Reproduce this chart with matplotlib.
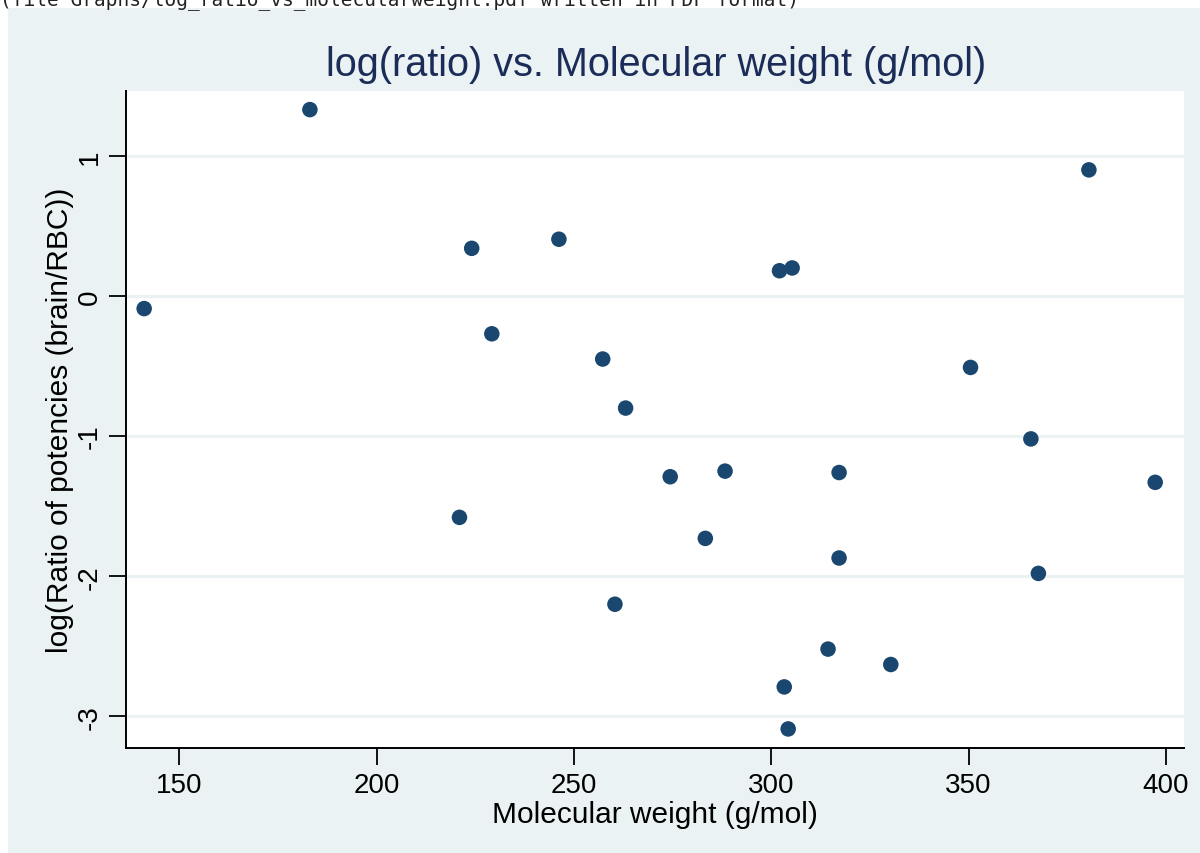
import matplotlib.pyplot as plt
from matplotlib.patches import Rectangle

# Molecular weight (g/mol) and log potency ratio (brain/RBC) per compound
mol_weight = [141.1, 183.1, 224.1, 246.2, 229.2, 257.3, 263.1, 221.0, 274.4,
              288.3, 283.3, 260.4, 302.1, 305.3, 350.5, 365.8, 317.2, 397.3,
              317.2, 367.7, 314.4, 330.3, 303.3, 304.3, 380.5]
log_ratio = [-0.09, 1.33, 0.34, 0.405, -0.27, -0.45, -0.80, -1.58, -1.29,
             -1.25, -1.73, -2.20, 0.18, 0.20, -0.51, -1.02, -1.26, -1.33,
             -1.87, -1.98, -2.52, -2.63, -2.79, -3.09, 0.90]

x_ticks = [150, 200, 250, 300, 350, 400]
y_ticks = [-3, -2, -1, 0, 1]

bg = '#eaf2f3'
navy = '#1a476f'

plt.rcParams['font.family'] = ['Liberation Sans', 'DejaVu Sans']

fig = plt.figure(figsize=(12, 8.54), dpi=100)
fig.patch.set_facecolor('white')
fig.patches.append(Rectangle((8 / 1200, 0), 1, 1 - 9 / 854, transform=fig.transFigure,
                             facecolor=bg, edgecolor='none', zorder=-10))

# log line from the export, partly cut at the top edge
fig.text(0.0, 1.0, '(file Graphs/log_ratio_vs_molecularweight.pdf written in PDF format)',
         family='DejaVu Sans Mono', fontsize=14, color='#222222', va='center', ha='left')

ax = fig.add_axes([126 / 1200, 1 - 749 / 854, 1058 / 1200, (749 - 91.7) / 854])
ax.set_facecolor('white')

ax.scatter(mol_weight, log_ratio, s=125, color=navy, edgecolors='none', zorder=3)

ax.set_xlim(136.5, 404.6)
ax.set_ylim(-3.226, 1.465)
ax.set_xticks(x_ticks)
ax.set_yticks(y_ticks)
ax.set_yticklabels([str(v) for v in y_ticks], rotation=90, va='center')

ax.grid(axis='y', color=bg, linewidth=2.2, zorder=0)
ax.grid(axis='x', visible=False)

for side in ['top', 'right']:
    ax.spines[side].set_visible(False)
for side in ['left', 'bottom']:
    ax.spines[side].set_linewidth(1.4)
    ax.spines[side].set_color('black')

ax.tick_params(axis='both', direction='out', length=12, width=1.3,
               labelsize=20, pad=5, colors='black')

ax.set_xlabel('Molecular weight (g/mol)', fontsize=21.5, labelpad=2)
ax.set_ylabel('log(Ratio of potencies (brain/RBC))', fontsize=21.5, labelpad=2)

fig.text(656 / 1200, 1 - 65 / 854, 'log(ratio) vs. Molecular weight (g/mol)',
         fontsize=28.5, color='#1c2c58', ha='center', va='center')

fig.savefig('out.png', dpi=100)
